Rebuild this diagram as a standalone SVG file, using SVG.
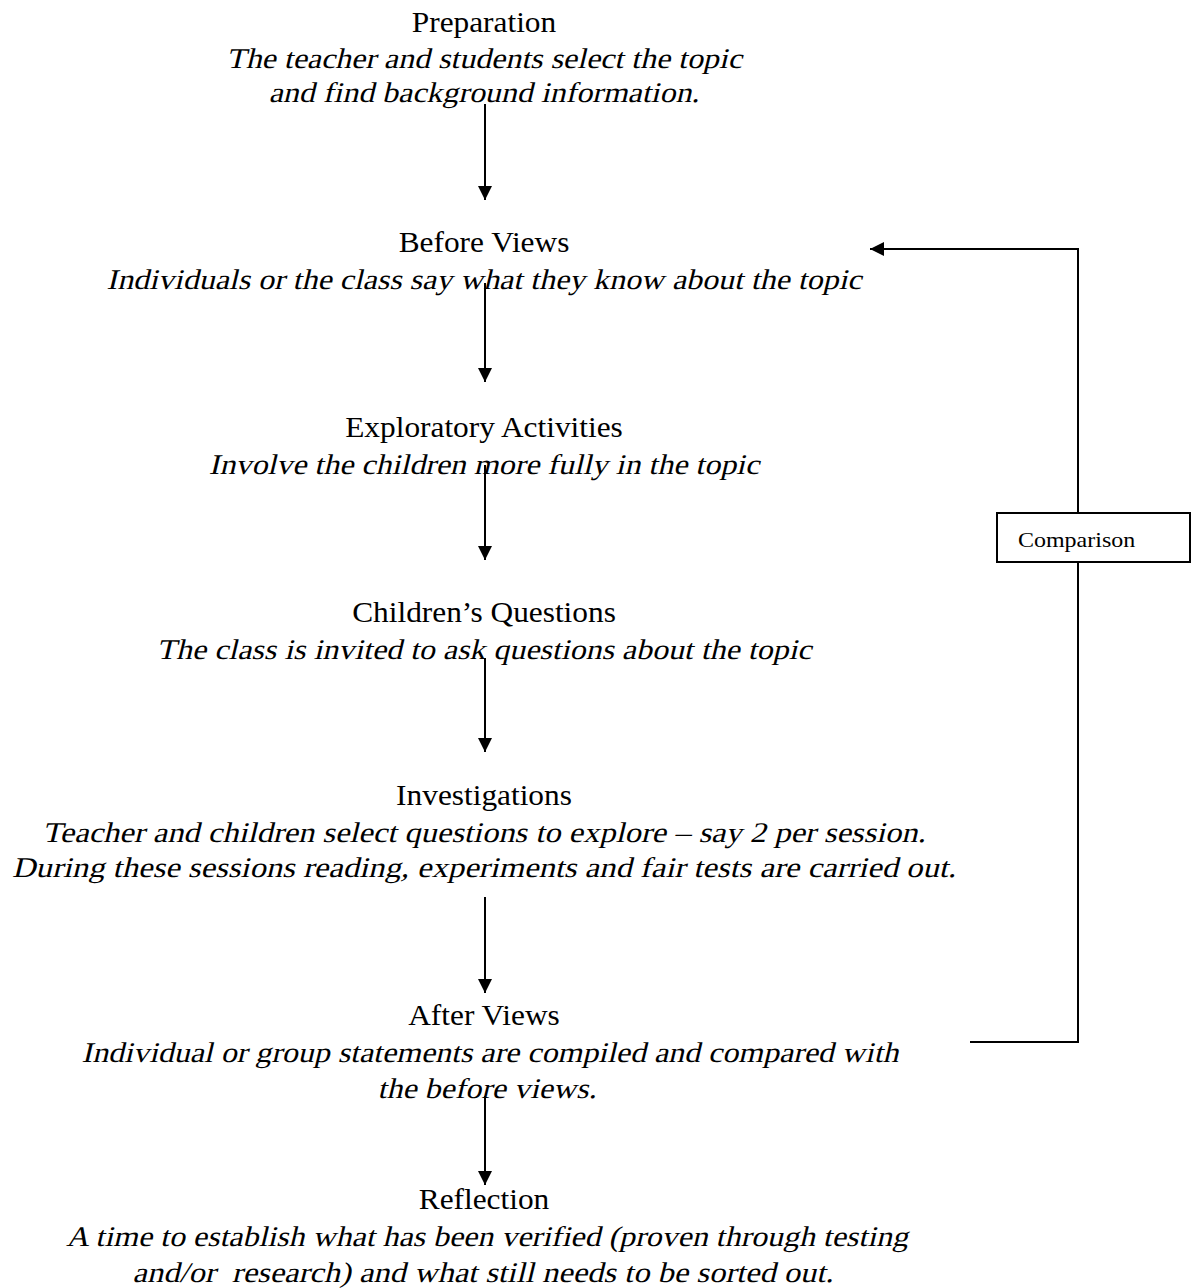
<svg xmlns="http://www.w3.org/2000/svg" width="1193" height="1288" viewBox="0 0 1193 1288">
<style>
.t{font-family:"Liberation Serif","Times New Roman",serif;font-size:28.5px;fill:#000;text-anchor:middle}
.i{font-family:"Liberation Serif","Times New Roman",serif;font-size:28.5px;fill:#000;text-anchor:middle;white-space:pre}
.c{stroke:#000;stroke-width:2;fill:none}
.lbl{font-family:"Liberation Serif","Times New Roman",serif;font-size:22px;fill:#000}
</style>
<defs>
<marker id="ah" markerUnits="userSpaceOnUse" markerWidth="16" markerHeight="16" viewBox="0 0 16 16" refX="15" refY="8" orient="auto">
<path d="M1,1 L15,8 L1,15 Z" fill="#000"/>
</marker>
</defs>
<rect width="1193" height="1288" fill="#fff"/>
<g id="connectors">
<line class="c" x1="485" y1="104" x2="485" y2="200" marker-end="url(#ah)"/>
<line class="c" x1="485" y1="283" x2="485" y2="382" marker-end="url(#ah)"/>
<line class="c" x1="485" y1="465" x2="485" y2="560" marker-end="url(#ah)"/>
<line class="c" x1="485" y1="658" x2="485" y2="752" marker-end="url(#ah)"/>
<line class="c" x1="485" y1="897" x2="485" y2="993" marker-end="url(#ah)"/>
<line class="c" x1="485" y1="1096" x2="485" y2="1185" marker-end="url(#ah)"/>
<polyline class="c" points="970,1042 1078,1042 1078,249 870,249" marker-end="url(#ah)"/>
</g>
<g id="preparation">
<text class="t" transform="translate(484,32) scale(1.1,1)">Preparation</text>
<text class="i" transform="translate(484,68) scale(1.12,1) skewX(-12)">The teacher and students select the topic</text>
<text class="i" transform="translate(484,102) scale(1.12,1) skewX(-12)">and find background information.</text>
</g>
<g id="before-views">
<text class="t" transform="translate(484,252) scale(1.1,1)">Before Views</text>
<text class="i" transform="translate(484,289) scale(1.12,1) skewX(-12)">Individuals or the class say what they know about the topic</text>
</g>
<g id="exploratory">
<text class="t" transform="translate(484,437) scale(1.1,1)">Exploratory Activities</text>
<text class="i" transform="translate(484,474) scale(1.12,1) skewX(-12)">Involve the children more fully in the topic</text>
</g>
<g id="questions">
<text class="t" transform="translate(484,622) scale(1.1,1)">Children’s Questions</text>
<text class="i" transform="translate(484,659) scale(1.12,1) skewX(-12)">The class is invited to ask questions about the topic</text>
</g>
<g id="investigations">
<text class="t" transform="translate(484,805) scale(1.1,1)">Investigations</text>
<text class="i" transform="translate(484,842) scale(1.14,1) skewX(-12)">Teacher and children select questions to explore – say 2 per session.</text>
<text class="i" transform="translate(484,877) scale(1.145,1) skewX(-12)">During these sessions reading, experiments and fair tests are carried out.</text>
</g>
<g id="after-views">
<text class="t" transform="translate(484,1025) scale(1.1,1)">After Views</text>
<text class="i" transform="translate(490,1062) scale(1.12,1) skewX(-12)">Individual or group statements are compiled and compared with</text>
<text class="i" transform="translate(487,1098) scale(1.12,1) skewX(-12)">the before views.</text>
</g>
<g id="reflection">
<text class="t" transform="translate(484,1209) scale(1.1,1)">Reflection</text>
<text class="i" transform="translate(487,1246) scale(1.12,1) skewX(-12)">A time to establish what has been verified (proven through testing</text>
<text class="i" transform="translate(483,1282) scale(1.14,1) skewX(-12)">and/or  research) and what still needs to be sorted out.</text>
</g>
<g id="comparison">
<rect x="997" y="513" width="193" height="49" fill="#fff" stroke="#000" stroke-width="2"/>
<text class="lbl" transform="translate(1018,547) scale(1.09,1)">Comparison</text>
</g>
</svg>
